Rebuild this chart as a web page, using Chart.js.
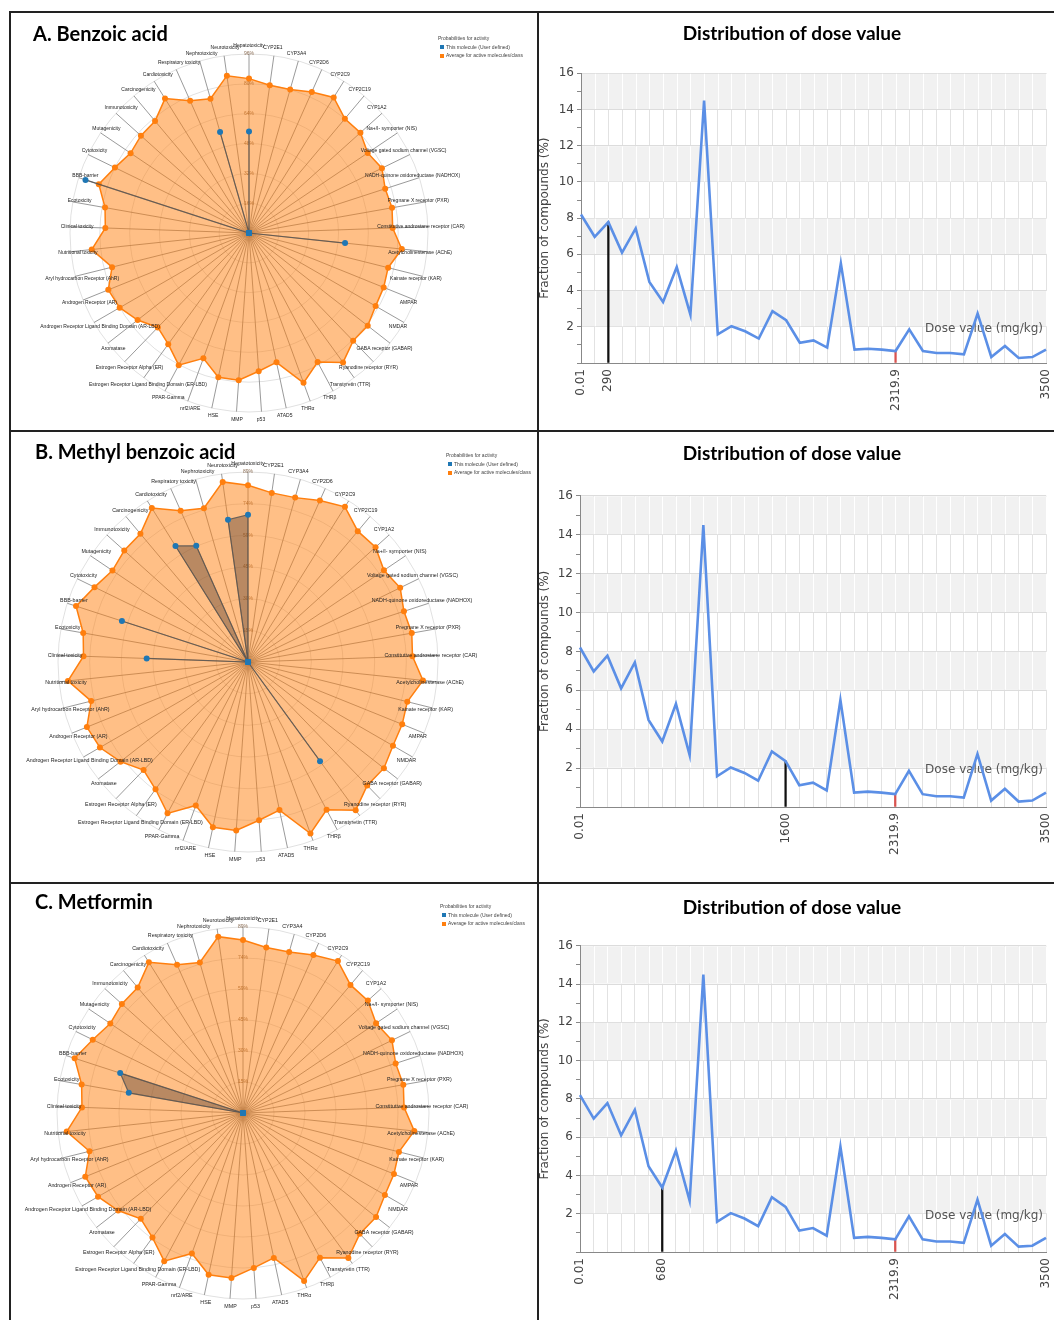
<!DOCTYPE html>
<html><head><meta charset="utf-8">
<script src="https://cdn.jsdelivr.net/npm/chart.js@4.4.1/dist/chart.umd.min.js"></script>
<style>
html,body{margin:0;padding:0;background:#fff;}
body{width:1054px;height:1320px;position:relative;overflow:hidden;font-family:'Liberation Sans',Arial,sans-serif;}
canvas{position:absolute;display:block;}
.hl{position:absolute;height:2px;background:#222;}
.vl{position:absolute;width:2px;background:#222;}
.head{position:absolute;font-family:Lato,'Open Sans',sans-serif;font-weight:700;font-size:20px;color:#000;line-height:24px;white-space:nowrap;}
.legend{position:absolute;font-family:'Liberation Sans',Arial,sans-serif;font-size:5px;color:#444;line-height:8.5px;white-space:nowrap;}
.legend i{display:inline-block;width:4px;height:4px;margin:0 2px 0 2px;vertical-align:middle;}
</style></head><body>

<canvas id="radarA" width="528" height="419" style="left:10px;top:12px"></canvas>
<canvas id="radarB" width="528" height="451" style="left:10px;top:432px"></canvas>
<canvas id="radarC" width="528" height="436" style="left:10px;top:884px"></canvas>
<canvas id="doseA" width="516" height="419" style="left:538px;top:12px"></canvas>
<canvas id="doseB" width="516" height="451" style="left:538px;top:432px"></canvas>
<canvas id="doseC" width="516" height="436" style="left:538px;top:884px"></canvas>

<div class="head" style="left:33px;top:21px">A. Benzoic acid</div>
<div class="head" style="left:35px;top:439px">B. Methyl benzoic acid</div>
<div class="head" style="left:35px;top:889px">C. Metformin</div>

<div class="legend" style="left:438px;top:34px">Probabilities for activity<br><i style="background:#1f77b4"></i>This molecule (User defined)<br><i style="background:#ff7f0e"></i>Average for active molecules/class</div>
<div class="legend" style="left:446px;top:451px">Probabilities for activity<br><i style="background:#1f77b4"></i>This molecule (User defined)<br><i style="background:#ff7f0e"></i>Average for active molecules/class</div>
<div class="legend" style="left:440px;top:902px">Probabilities for activity<br><i style="background:#1f77b4"></i>This molecule (User defined)<br><i style="background:#ff7f0e"></i>Average for active molecules/class</div>

<div class="hl" style="left:9px;top:11px;width:1045px"></div>
<div class="hl" style="left:9px;top:430px;width:1045px"></div>
<div class="hl" style="left:9px;top:882px;width:1045px"></div>
<div class="vl" style="left:9px;top:11px;height:1309px"></div>
<div class="vl" style="left:537px;top:11px;height:1309px"></div>

<script>
// ---------- radar data ----------
const toxLabels = ['Hepatotoxicity','CYP2E1','CYP3A4','CYP2D6','CYP2C9','CYP2C19','CYP1A2',
 'Na+/I- symporter (NIS)','Voltage gated sodium channel (VGSC)','NADH-quinone oxidoreductase (NADHOX)',
 'Pregnane X receptor (PXR)','Constitutive androstane receptor (CAR)','Acetylcholinesterase (AChE)',
 'Kainate receptor (KAR)','AMPAR','NMDAR','GABA receptor (GABAR)','Ryanodine receptor (RYR)',
 'Transtyretin (TTR)','THRβ','THRα','ATAD5','p53','MMP','HSE','nrf2/ARE','PPAR-Gamma',
 'Estrogen Receptor Ligand Binding Domain (ER-LBD)','Estrogen Receptor Alpha (ER)','Aromatase',
 'Androgen Receptor Ligand Binding Domain (AR-LBD)','Androgen Receptor (AR)','Aryl hydrocarbon Receptor (AhR)',
 'Nutritional toxicity','Clinical toxicity','Ecotoxicity','BBB-barrier','Cytotoxicity','Mutagenicity',
 'Immunotoxicity','Carcinogenicity','Cardiotoxicity','Respiratory toxicity','Nephrotoxicity','Neurotoxicity'];

const avgActive = [82.8,80.0,80.1,82.8,85.7,80.0,80.4,76.8,79.3,76.8,77.9,77.1,82.4,76.9,77.9,78.4,80.8,80.4,
 85.8,78.4,85.5,70.9,74.3,79.1,79.1,71.5,80.3,73.7,70.4,75.8,80.1,81.4,75.7,84.8,77.1,78.4,84.7,80.0,76.6,
 78.0,78.4,85.0,77.6,74.9,85.2];

const moleculeA = [54.4,0,0,0,0,0,0,0,0,0,0,0,51.8,0,0,0,0,0,0,0,0,0,0,0,0,0,0,0,0,0,0,0,0,0,0,0,92.2,0,0,0,0,0,0,56.3,0];
const moleculeB = [69.0,0,0,0,0,0,0,0,0,0,0,0,0,0,0,0,0,0,57.4,0,0,0,0,0,0,0,0,0,0,0,0,0,0,0,47.5,0,62.1,0,0,0,0,64.1,59.6,0,67.3];
const moleculeC = [0,0,0,0,0,0,0,0,0,0,0,0,0,0,0,0,0,0,0,0,0,0,0,0,0,0,0,0,0,0,0,0,0,0,0,55.5,61.8,0,0,0,0,0,0,0,0];

const radarMaxA = 96, radarMaxBC = 89;

// ---------- dose distribution data ----------
const doseFraction = [8.2,6.97,7.78,6.1,7.43,4.48,3.37,5.3,2.67,14.5,1.58,2.03,1.75,1.35,2.86,2.36,1.12,1.25,
 0.85,5.5,0.74,0.79,0.74,0.66,1.86,0.66,0.55,0.55,0.48,2.73,0.33,0.94,0.28,0.33,0.74];
const doseBins = doseFraction.map((_, i) => i);
const doseTickLabelsA = ['0.01','290','2319.9','3500'];
const doseTickIdxA = [0,2,23,34];
const doseTickLabelsB = ['0.01','1600','2319.9','3500'];
const doseTickIdxB = [0,15,23,34];
const doseTickLabelsC = ['0.01','680','2319.9','3500'];
const doseTickIdxC = [0,6,23,34];
const moleculeDoseIdx = {A:2, B:15, C:6};
const refDoseIdx = 23;
const bandRanges = [[2,4],[6,8],[10,12],[14,16]];

// ---------- plugins ----------
const radarLabelPlugin = {
  id: 'radarLabels',
  afterDatasetsDraw(chart, args, opts) {
    const s = chart.scales.r, ctx = chart.ctx, R = s.drawingArea;
    ctx.save();
    ctx.font = opts.size + 'px "Liberation Sans", Arial, sans-serif';
    ctx.fillStyle = '#222';
    ctx.textAlign = 'center';
    ctx.textBaseline = 'middle';
    chart.data.labels.forEach((lab, i) => {
      const px = s.getPointPosition(i, R - 7).x;
      const py = s.getPointPosition(i, R + 8).y;
      ctx.fillText(lab, px, py);
    });
    ctx.restore();
  }
};

function makeRadar(id, molecule, maxV, pad, labelSize) {
  new Chart(document.getElementById(id), {
    type: 'radar',
    data: {
      labels: toxLabels,
      datasets: [
        { label: 'This molecule (User defined)', data: molecule, order: 0,
          borderColor: 'rgba(85,85,85,0.85)', borderWidth: 1.2,
          backgroundColor: 'rgba(70,50,40,0.38)', fill: true,
          pointBackgroundColor: '#1f77b4', pointBorderColor: '#1f77b4', pointRadius: 3, pointBorderWidth: 0 },
        { label: 'Average for active molecules/class', data: avgActive, order: 1,
          borderColor: '#ff7f0e', borderWidth: 1.5,
          backgroundColor: 'rgba(255,127,14,0.5)', fill: true,
          pointBackgroundColor: '#ff7f0e', pointBorderColor: '#ff7f0e', pointRadius: 3, pointBorderWidth: 0 }
      ]
    },
    options: {
      responsive: false, animation: false,
      layout: { padding: pad },
      plugins: { legend: { display: false }, tooltip: { enabled: false }, radarLabels: { size: labelSize } },
      elements: { line: { tension: 0 } },
      scales: {
        r: {
          min: 0, max: maxV, startAngle: 0,
          ticks: { count: 7, showLabelBackdrop: false, color: 'rgba(120,85,55,0.85)',
                   font: { size: 5, family: '"Liberation Sans", Arial, sans-serif' },
                   callback: v => v === 0 ? '' : Math.round(v + 1e-6) + '%' },
          grid: { circular: true, color: 'rgba(0,0,0,0.12)' },
          angleLines: { color: 'rgba(120,120,120,0.75)', lineWidth: 1 },
          pointLabels: { display: false }
        }
      }
    },
    plugins: [radarLabelPlugin]
  });
}

makeRadar('radarA', moleculeA, radarMaxA, {left:55, top:37, right:105, bottom:14}, 5);
makeRadar('radarB', moleculeB, radarMaxBC, {left:43, top:35, right:95, bottom:26}, 5.3);
makeRadar('radarC', moleculeC, radarMaxBC, {left:42, top:38, right:104, bottom:16}, 5.3);

const bandPlugin = {
  id: 'bands',
  beforeDatasetsDraw(chart) {
    const { ctx, chartArea: ca, scales: { x, y } } = chart;
    ctx.save();
    bandRanges.forEach(([a, b]) => {
      const y1 = y.getPixelForValue(b) + 0.5, y2 = y.getPixelForValue(a) - 0.5;
      ctx.fillStyle = '#f1f1f1';
      ctx.fillRect(ca.left + 1, y1, ca.right - ca.left - 1, y2 - y1);
      ctx.strokeStyle = '#ffffff'; ctx.lineWidth = 1;
      x.ticks.forEach((t, i) => {
        if (i === 0) return;
        const px = Math.round(x.getPixelForTick(i)) + 0.5;
        ctx.beginPath(); ctx.moveTo(px, y1); ctx.lineTo(px, y2); ctx.stroke();
      });
    });
    // axis label inside the plot
    ctx.font = '12px "DejaVu Sans", sans-serif';
    ctx.fillStyle = '#555';
    ctx.textAlign = 'right'; ctx.textBaseline = 'middle';
    ctx.fillText('Dose value (mg/kg)', ca.right - 3, y.getPixelForValue(1.9));
    ctx.restore();
  }
};

function makeDose(id, tickLabels, tickIdx, markIdx, titlePad, xH, yW) {
  const markers = doseFraction.map((v, i) => (i === markIdx || i === refDoseIdx) ? v : null);
  new Chart(document.getElementById(id), {
    type: 'line',
    data: {
      labels: doseBins,
      datasets: [
        { type: 'line', data: doseFraction, order: 0, borderColor: '#5b8fe6', borderWidth: 2.6,
          pointRadius: 0, tension: 0, fill: false },
        { type: 'bar', data: markers, order: 1, barThickness: 1.6, grouped: false,
          backgroundColor: ctx => ctx.dataIndex === refDoseIdx ? '#d9534f' : '#111' }
      ]
    },
    options: {
      responsive: false, animation: false,
      layout: { padding: { left: 0, right: 8, top: 0, bottom: 0 } },
      plugins: {
        legend: { display: false }, tooltip: { enabled: false },
        title: { display: true, text: 'Distribution of dose value', color: '#000',
                 font: { family: 'Lato, "Open Sans", sans-serif', weight: 'bold', size: 19 },
                 padding: titlePad }
      },
      scales: {
        x: {
          offset: false,
          grid: { offset: false, color: '#e2e2e2', drawTicks: false },
          border: { color: '#888' },
          ticks: { autoSkip: false, minRotation: 90, maxRotation: 90, padding: 6, color: '#444',
                   font: { family: '"DejaVu Sans", sans-serif', size: 12 },
                   callback: (v, i) => { const k = tickIdx.indexOf(i); return k >= 0 ? tickLabels[k] : ''; } },
          afterFit: s => { s.height = xH; s.paddingLeft = 0; s.paddingRight = 0; }
        },
        y: {
          min: 0, max: 16,
          ticks: { stepSize: 1, color: '#444', padding: 3,
                   font: { family: '"DejaVu Sans", sans-serif', size: 12 },
                   callback: v => (v > 0 && v % 2 === 0) ? v : '' },
          grid: { color: c => (c.tick && c.tick.value > 0 && c.tick.value % 2 === 0) ? '#dcdcdc' : 'rgba(0,0,0,0)',
                  tickColor: '#888', tickLength: 4 },
          border: { color: '#888' },
          title: { display: true, text: 'Fraction of compounds (%)', color: '#444', padding: 0,
                   font: { family: '"DejaVu Sans", sans-serif', size: 12 } },
          afterFit: s => { s.width = yW; }
        }
      }
    },
    plugins: [bandPlugin]
  });
}

makeDose('doseA', doseTickLabelsA, doseTickIdxA, moleculeDoseIdx.A, {top:10, bottom:28.5}, 68, 43);
makeDose('doseB', doseTickLabelsB, doseTickIdxB, moleculeDoseIdx.B, {top:10, bottom:31}, 76, 42);
makeDose('doseC', doseTickLabelsC, doseTickIdxC, moleculeDoseIdx.C, {top:12.5, bottom:26.5}, 68, 42);
</script>
</body></html>
